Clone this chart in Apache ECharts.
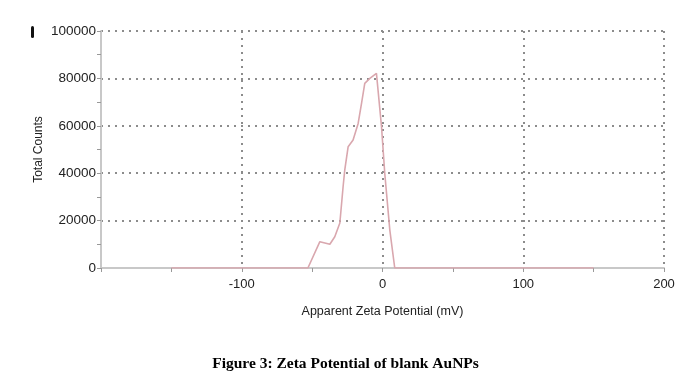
<!DOCTYPE html>
<html><head><meta charset="utf-8">
<script src="https://cdn.jsdelivr.net/npm/echarts@6/dist/echarts.min.js"></script>
<style>html,body{margin:0;padding:0;background:#fff}#c{width:691px;height:383px}</style>
</head><body><div id="c"></div>
<script>
var zetaMv = [-150, -53, -44.5, -37.4, -33.9, -30.3, -28, -26.8, -24.4, -20.9, -17.3, -14.9, -12.6, -9.0, -4.3, -3.1, -0.7, 1.6, 5.2, 8.7, 150];
var totalCounts = [0, 0, 11100, 10000, 13200, 19000, 34300, 41400, 51200, 54000, 61000, 69500, 77900, 80000, 82100, 82400, 59600, 40000, 16000, 0, 0];
var xTicks = [-100, 0, 100, 200];
var yTicks = [0, 20000, 40000, 60000, 80000, 100000];

var chart = echarts.init(document.getElementById('c'), null, {renderer: 'canvas'});
var pts = zetaMv.map(function (x, i) { return [x, totalCounts[i]]; });
var dotted = {color: '#8c8c8c', width: 2, type: [2, 5]};
chart.setOption({
  animation: false,
  backgroundColor: '#fff',
  grid: {left: 101, right: 27, top: 31, bottom: 115},
  xAxis: {
    type: 'value', min: -200, max: 200, interval: 100,
    axisLine: {show: true, onZero: false, lineStyle: {color: '#c8c8c8', width: 2}},
    axisTick: {show: true, length: 4, lineStyle: {color: '#999'}},
    minorTick: {show: true, splitNumber: 2, length: 4, lineStyle: {color: '#999'}},
    axisLabel: {color: '#222', fontSize: 13, fontFamily: 'Liberation Sans', margin: 10,
      formatter: function (v) { return xTicks.indexOf(v) >= 0 ? String(v) : ''; }},
    splitLine: {show: true, lineStyle: dotted},
    name: 'Apparent Zeta Potential (mV)', nameLocation: 'middle', nameGap: 37,
    nameTextStyle: {color: '#222', fontSize: 12.5, fontFamily: 'Liberation Sans'}
  },
  yAxis: {
    type: 'value', min: 0, max: 100000, interval: 20000,
    axisLine: {show: true, onZero: false, lineStyle: {color: '#c8c8c8', width: 2}},
    axisTick: {show: true, length: 4, lineStyle: {color: '#999'}},
    minorTick: {show: true, splitNumber: 2, length: 4, lineStyle: {color: '#999'}},
    axisLabel: {color: '#222', fontSize: 13.5, fontFamily: 'Liberation Sans', margin: 5,
      formatter: function (v) { return yTicks.indexOf(v) >= 0 ? String(v) : ''; }},
    splitLine: {show: true, lineStyle: dotted},
    name: 'Total Counts', nameLocation: 'middle', nameGap: 56, nameMoveOverlap: false,
    nameTextStyle: {color: '#222', fontSize: 12, fontFamily: 'Liberation Sans'}
  },
  series: [{
    type: 'line', data: pts, symbol: 'none', smooth: false,
    lineStyle: {color: '#d9a7ae', width: 1.6}
  }],
  graphic: [
    {type: 'text', left: 'center', top: 356, style: {text: 'Figure 3: Zeta Potential of blank AuNPs', font: 'bold 15.5px "Liberation Serif"', fill: '#000'}},
    {type: 'rect', shape: {x: 31, y: 26, width: 3, height: 12, r: 1.5}, style: {fill: '#111'}}
  ]
});
</script></body></html>
